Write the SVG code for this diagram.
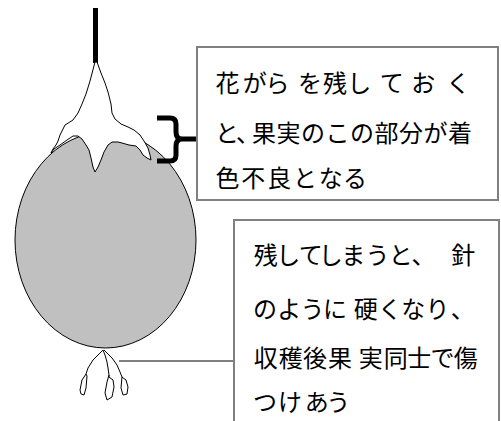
<svg xmlns="http://www.w3.org/2000/svg" width="501" height="421" viewBox="0 0 501 421">
  <style>
    .lbl { font-family: "Noto Sans CJK JP", "Noto Sans CJK SC", sans-serif; font-size: 24px; fill: #000; }
    .box { fill: #fff; stroke: #808080; stroke-width: 2; }
    .thin { fill: none; stroke: #000; stroke-width: 1; stroke-linejoin: round; }
    .lead { fill: none; stroke: #808080; stroke-width: 2; }
  </style>
  <rect width="501" height="421" fill="#fff"/>

  <!-- fruit body -->
  <g id="fruit">
    <ellipse cx="105.5" cy="240" rx="90.5" ry="108" fill="#c0c0c0" stroke="#000" stroke-width="1"/>
    <!-- stalk -->
    <line x1="95.5" y1="8" x2="95.5" y2="63" stroke="#000" stroke-width="5"/>
    <!-- withered flower remnant on top -->
    <path class="thin" fill="#fff" style="fill:#fff" d="M95,62 L97,62 L101,73 L105,83 L108,92 L111,104 L112,113 L115,119 L121,124 L128,127 L134,130 L140,135 L144,141 L148,148 L150,155 L151,160 L147,158 L143,155 L140,150 L136,146 L129,145 L122,143 L118,142 L112,142 L108,145 L104,152 L101,160 L98,167 L95,172 L93,167 L91,158 L89,150 L86,145 L82,139 L78,136 L73,136 L67,140 L60,145 L54,149 L51,153 L53,149 L56,145 L58,141 L60,135 L62,131 L65,125 L73,120 L78,113 L82,104 L86,94 L90,81 Z"/>
    <!-- pistil remnant at the bottom -->
    <path class="thin" d="M103,350 L98,355 L93,360 L88,368 L86,374 L84,377 L82,380 L80,390 L81,394 L84,395 L86,388 L87,376 L86,374"/>
    <path class="thin" d="M103,350 L105,355 L107,362 L108,368 L109,375 L107,382 L105,393 L107,400 L112,397 L114,387 L113,380 L109,377 L109,375"/>
    <path class="thin" d="M104,350 L112,358 L117,365 L120,372 L122,377 L121,388 L123,395 L127,394 L128,387 L126,380 L122,377"/>
  </g>

  <!-- connectors -->
  <g id="connectors">
    <path fill="none" stroke="#000" stroke-width="5" d="M157,118 H170 Q176,118 176,124 V132 Q176,139 182,139 Q176,139 176,146 V155 Q176,161 170,161 H157 M180,139 H197"/>
    <line class="lead" x1="119" y1="361" x2="234" y2="361"/>
  </g>

  <!-- note on the top part -->
  <g id="note-top">
    <rect class="box" x="197" y="47" width="301" height="153"/>
    <text class="lbl" y="91.5" x="215.5 242.7 265.5 298 323 347.2 379.7 411.3 446.3">花がらを残しておく</text>
    <text class="lbl" y="141.5" x="215 236 252 276.5 301 325.5 350 374.5 399 423.5 448">と、果実のこの部分が着</text>
    <text class="lbl" y="186.5" x="215.5 241.3 267.2 293 318.8 343">色不良となる</text>
  </g>

  <!-- note on the bottom part -->
  <g id="note-bottom">
    <rect class="box" x="234" y="220" width="265" height="210"/>
    <text class="lbl" y="263.5" x="253.8 276.3 298.8 318.8 341.3 365.5 388.8 411.5 451.3">残してしまうと、針</text>
    <text class="lbl" y="318" x="253 277.2 300.5 323 353.8 378 401.3 425.5 450.7">のように硬くなり、</text>
    <text class="lbl" y="367" x="253.8 278.8 303 328 358.8 383.8 407.2 430.5 453.8">収穫後果実同士で傷</text>
    <text class="lbl" y="410.5" x="253 278 304.7 326.3">つけあう</text>
  </g>
</svg>
